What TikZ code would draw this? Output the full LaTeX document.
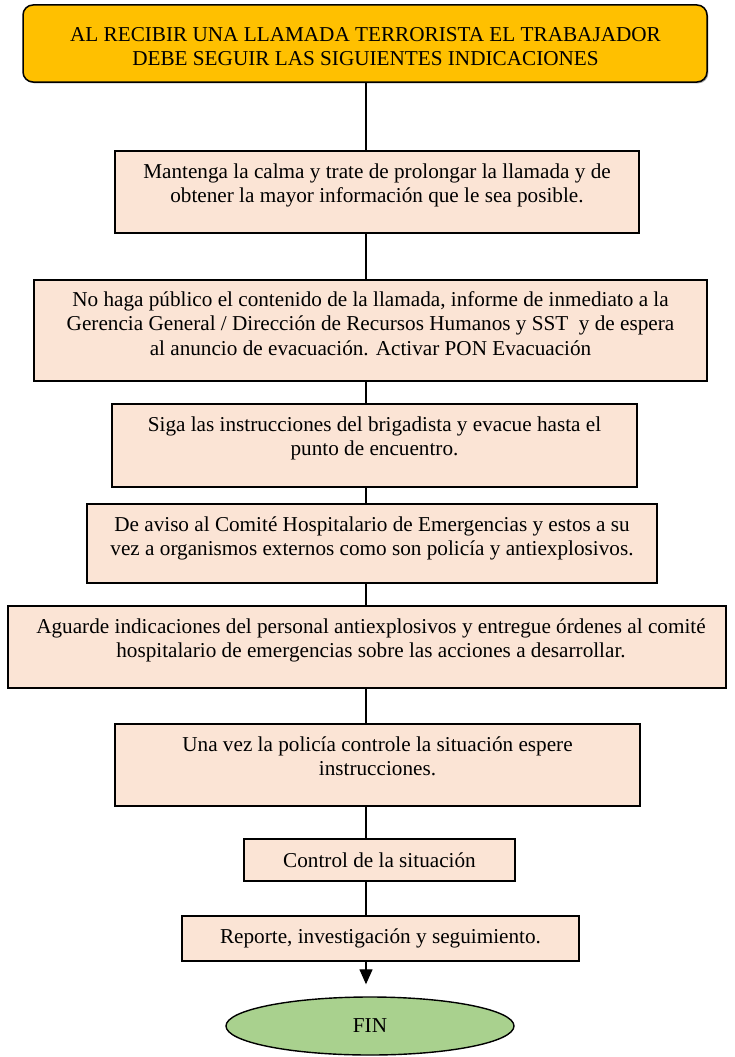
\documentclass[tikz,border=0pt]{standalone}
\usepackage{fontspec}
\setmainfont{Liberation Serif}
\usetikzlibrary{arrows.meta,shapes.geometric,shadows}
\definecolor{gold}{HTML}{FFC000}
\definecolor{peach}{HTML}{FBE4D5}
\definecolor{leaf}{HTML}{A9D18E}
\begin{document}
\begin{tikzpicture}[x=1pt,y=-1pt,
  every node/.style={font=\fontsize{21.2}{24.4}\selectfont},
  shade/.style={drop shadow={shadow xshift=1.3pt,shadow yshift=-1.3pt,fill=black,opacity=0.35}},
  stepbox/.style={draw=black,line width=1.4pt,fill=peach,rectangle,inner sep=0pt,shade},
  headbox/.style={draw=black,line width=1.5pt,fill=gold,rectangle,rounded corners=10pt,inner sep=0pt,shade},
  endbox/.style={draw=black,line width=1.4pt,fill=leaf,ellipse,inner sep=0pt},
  txt/.style={align=center,inner sep=0pt,anchor=north},
  link/.style={line width=1.3pt,draw=black}]
\useasboundingbox (0,0) rectangle (735,1057);
\coordinate (ax) at (366,0);

\node[headbox,minimum width=684pt,minimum height=77pt] (top) at (365,43.5) {};
\node[align=center,inner sep=0pt] (t0) at (365.5,46.5) {AL RECIBIR UNA LLAMADA TERRORISTA EL TRABAJADOR\\DEBE SEGUIR LAS SIGUIENTES INDICACIONES};

\node[stepbox,minimum width=524pt,minimum height=82pt] (b1) at (377,192) {};
\node[txt] (t1) at ([yshift=-13pt]b1.north) {Mantenga la calma y trate de prolongar la llamada y de\\obtener la mayor información que le sea posible.};

\node[stepbox,minimum width=673pt,minimum height=101pt] (b2) at (370.5,330.5) {};
\node[txt] (t2) at ([yshift=-12pt]b2.north) {No haga público el contenido de la llamada, informe de inmediato a la\\Gerencia General / Dirección de Recursos Humanos y SST\ \ y de espera\\al anuncio de evacuación. Activar PON Evacuación};

\node[stepbox,minimum width=525pt,minimum height=83pt] (b3) at (374.5,445.5) {};
\node[txt] (t3) at ([yshift=-13pt]b3.north) {Siga las instrucciones del brigadista y evacue hasta el\\punto de encuentro.};

\node[stepbox,minimum width=570pt,minimum height=79pt] (b4) at (372,543.5) {};
\node[txt] (t4) at ([yshift=-13pt]b4.north) {De aviso al Comité Hospitalario de Emergencias y estos a su\\vez a organismos externos como son policía y antiexplosivos.};

\node[stepbox,minimum width=718pt,minimum height=82pt] (b5) at (367,647) {};
\node[txt] (t5) at ([xshift=4pt,yshift=-13pt]b5.north) {Aguarde indicaciones del personal antiexplosivos y entregue órdenes al comité\\hospitalario de emergencias sobre las acciones a desarrollar.};

\node[stepbox,minimum width=525pt,minimum height=82pt] (b6) at (377.5,765) {};
\node[txt] (t6) at ([yshift=-13pt]b6.north) {Una vez la policía controle la situación espere\\instrucciones.};

\node[stepbox,minimum width=271pt,minimum height=42pt] (b7) at (379.5,860) {Control de la situación};

\node[stepbox,minimum width=397pt,minimum height=45pt] (b8) at (380.5,938.5) {Reporte, investigación y seguimiento.};

\node[endbox,minimum width=288pt,minimum height=58pt] (fin) at (370,1026) {FIN};

\draw[link] (top.south -| ax) -- (b1.north -| ax);
\draw[link] (b1.south -| ax) -- (b2.north -| ax);
\draw[link] (b2.south -| ax) -- (b3.north -| ax);
\draw[link] (b3.south -| ax) -- (b4.north -| ax);
\draw[link] (b4.south -| ax) -- (b5.north -| ax);
\draw[link] (b5.south -| ax) -- (b6.north -| ax);
\draw[link] (b6.south -| ax) -- (b7.north -| ax);
\draw[link] (b7.south -| ax) -- (b8.north -| ax);
\draw[link,-{Triangle[width=13pt,length=15pt]},shorten >=12pt] (b8.south -| ax) -- (fin.north -| ax);
\end{tikzpicture}
\end{document}
